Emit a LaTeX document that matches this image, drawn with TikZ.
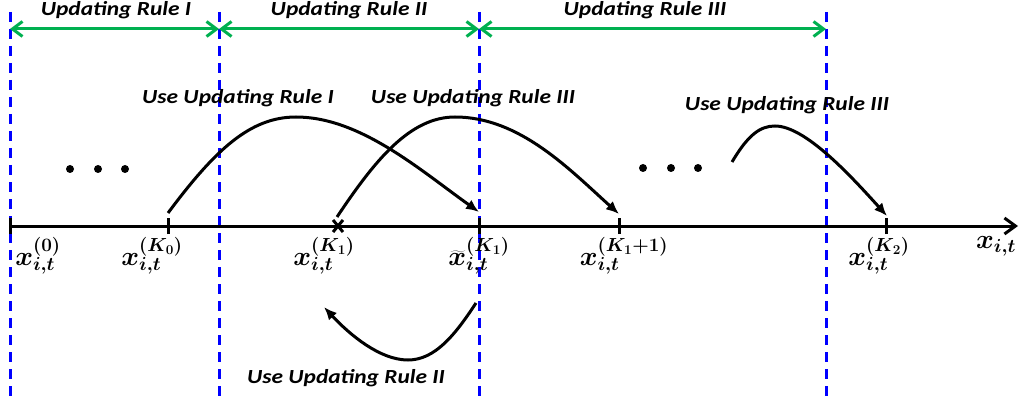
\RequirePackage{fix-cm}
\documentclass[tikz,border=0pt]{standalone}
\usepackage{fontspec}
\setmainfont{Carlito}
\newfontfamily\lblfont[FakeStretch=1.17]{Carlito}
\usetikzlibrary{arrows.meta}
\definecolor{rulegreen}{RGB}{0,176,80}
\definecolor{ruleblue}{RGB}{0,0,255}
\tikzset{
  divider/.style={draw=ruleblue, line width=3pt, dash pattern=on 10pt off 7pt},
  span/.style={draw=rulegreen, line width=3pt, {Straight Barb[length=10pt,width=15pt]}-{Straight Barb[length=10pt,width=15pt]}},
  spanlabel/.style={font=\lblfont\fontsize{20}{24}\selectfont\bfseries\itshape, text=black, inner sep=0pt},
  uselabel/.style={font=\lblfont\fontsize{20}{24}\selectfont\bfseries\itshape, text=black, inner sep=0pt},
  axisline/.style={draw=black, line width=3pt, -{Straight Barb[length=11pt,width=16pt]}},
  tickmark/.style={draw=black, line width=3pt},
  jump/.style={draw=black, line width=3pt, -{Latex[length=13pt,width=11pt]}},
  mathlabel/.style={font=\fontsize{27}{32}\selectfont\boldmath, inner sep=0pt},
  dot/.style={fill=black, circle, inner sep=0pt, minimum size=8pt}
}
\begin{document}
\begin{tikzpicture}[x=1pt,y=-1pt]
\useasboundingbox (0,0) rectangle (1032,406);
% dividers
\coordinate (d0t) at (10,12);  \coordinate (d0b) at (10,400);
\coordinate (d1t) at (219,12); \coordinate (d1b) at (219,400);
\coordinate (d2t) at (479,12); \coordinate (d2b) at (479,400);
\coordinate (d3t) at (826,12); \coordinate (d3b) at (826,400);
\draw[divider] (d0t) -- (d0b);
\draw[divider] (d1t) -- (d1b);
\draw[divider] (d2t) -- (d2b);
\draw[divider] (d3t) -- (d3b);
% spans
\coordinate (s0) at (10,29); \coordinate (s1) at (219,29);
\coordinate (s2) at (479,29); \coordinate (s3) at (826,29);
\draw[span] (s0) -- (s1);
\draw[span] (s1) -- (s2);
\draw[span] (s2) -- (s3);
\node[spanlabel] (r1) at (116,10) {Updating Rule I};
\node[spanlabel] (r2) at (349,10) {Updating Rule II};
\node[spanlabel] (r3) at (645,10) {Updating Rule III};
% axis
\coordinate (a0) at (10,226);
\coordinate (aend) at (1018,226);
\draw[axisline] (a0) -- (aend);
\coordinate (k0) at (168,226);
\coordinate (k1) at (338,226);
\coordinate (tk1) at (479,226);
\coordinate (k11) at (619,226);
\coordinate (k2) at (886,226);
\foreach \c in {a0,k0,tk1,k11,k2}
  \draw[tickmark] ([yshift=-8pt]\c) -- ([yshift=8pt]\c);
\draw[tickmark] ([shift={(-5pt,-6pt)}]k1) -- ([shift={(5pt,6pt)}]k1);
\draw[tickmark] ([shift={(5pt,-6pt)}]k1) -- ([shift={(-5pt,6pt)}]k1);
% axis labels
\node[mathlabel] (l0) at (38,256) {$x^{(0)}_{i,t}$};
\node[mathlabel] (lk0) at (152,256) {$x^{(K_0)}_{i,t}$};
\node[mathlabel] (lk1) at (324,256) {$x^{(K_1)}_{i,t}$};
\node[mathlabel] (ltk1) at (479,256) {${\widetilde{x}}^{(K_1)}_{i,t}$};
\node[mathlabel] (lk11) at (624,256) {$x^{(K_1+1)}_{i,t}$};
\node[mathlabel] (lk2) at (879,256) {$x^{(K_2)}_{i,t}$};
\node[mathlabel] (lx) at (996,246) {$x_{i,t}$};
% dots
\foreach \n/\x/\y in {p1/70/169,p2/98/169,p3/125/169,q1/643/168,q2/671/168,q3/698/168}
  \node[dot] (\n) at (\x,\y) {};
% jumps
\coordinate (j1s) at (168,213); \coordinate (j1p) at (296,117); \coordinate (j1e) at (479,212);
\draw[jump] (j1s) .. controls (215,150) and (250,117) .. (j1p) .. controls (360,117) and (420,170) .. (j1e);
\coordinate (j2s) at (337,217); \coordinate (j2p) at (455,117); \coordinate (j2e) at (619,214);
\draw[jump] (j2s) .. controls (375,160) and (410,117) .. (j2p) .. controls (520,117) and (570,170) .. (j2e);
\coordinate (j3s) at (732,162); \coordinate (j3p) at (775,126); \coordinate (j3e) at (887,216);
\draw[jump] (j3s) .. controls (748,135) and (760,126) .. (j3p) .. controls (805,126) and (850,175) .. (j3e);
\coordinate (j4s) at (476,303); \coordinate (j4p) at (408,360); \coordinate (j4e) at (324,307);
\draw[jump] (j4s) .. controls (455,335) and (435,360) .. (j4p) .. controls (380,360) and (350,335) .. (j4e);
% jump labels
\node[uselabel] (u1) at (238,98) {Use Updating Rule I};
\node[uselabel] (u2) at (473,98) {Use Updating Rule III};
\node[uselabel] (u3) at (787,105) {Use Updating Rule III};
\node[uselabel] (u4) at (346,378) {Use Updating Rule II};
\end{tikzpicture}
\end{document}
